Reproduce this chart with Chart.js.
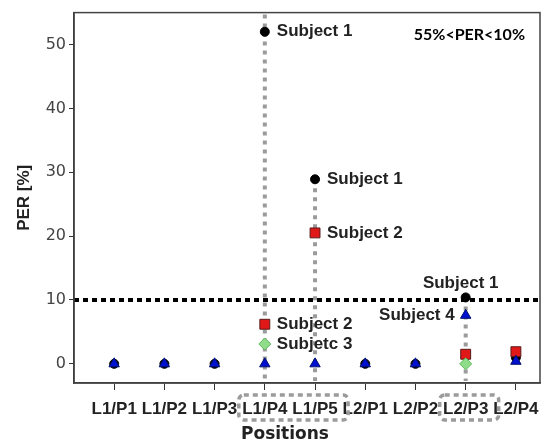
<!DOCTYPE html>
<html>
<head>
<meta charset="utf-8">
<script src="https://cdn.jsdelivr.net/npm/chart.js@4"></script>
<style>
  html, body { margin: 0; padding: 0; background: #fff; }
</style>
</head>
<body>
<canvas id="perChart" width="550" height="447"></canvas>
<script>
// PER per position, one array per subject (null = no visible mark)
const positions = ['L1/P1', 'L1/P2', 'L1/P3', 'L1/P4', 'L1/P5', 'L2/P1', 'L2/P2', 'L2/P3', 'L2/P4'];
const subject1 = [0, 0, 0, 52, 28.9, 0, 0, 10.4, 1.0];
const subject2 = [null, null, null, 6.2, 20.5, null, null, 1.5, 1.9];
const subject3 = [null, null, null, 3.1, null, null, null, 0, null];
const subject4 = [0, 0, 0, 0, 0, 0, 0, 7.6, 0.4];
const yTicks = [0, 10, 20, 30, 40, 50];
const threshold = 10;
const rangeNote = '55%<PER<10%';

// positions with a vertical guide, and groups of tick labels that get a box
const guides = [
  { pos: 'L1/P4', fromTop: true },
  { pos: 'L1/P5' },
  { pos: 'L2/P3' }
];
const boxedGroups = [['L1/P4', 'L1/P5'], ['L2/P3']];

// text notes next to single points: series index, position, side
const notes = [
  { text: 'Subject 1', series: 0, pos: 'L1/P4', side: 'right' },
  { text: 'Subject 1', series: 0, pos: 'L1/P5', side: 'right' },
  { text: 'Subject 2', series: 1, pos: 'L1/P5', side: 'right' },
  { text: 'Subject 2', series: 1, pos: 'L1/P4', side: 'right' },
  { text: 'Subjetc 3', series: 2, pos: 'L1/P4', side: 'right' },
  { text: 'Subject 1', series: 0, pos: 'L2/P3', side: 'above' },
  { text: 'Subject 4', series: 3, pos: 'L2/P3', side: 'left' }
];

const allSeries = [subject1, subject2, subject3, subject4];
const toPoints = arr => arr.map((v, i) => ({ x: i + 1, y: v }));

const decor = {
  id: 'decor',
  beforeDatasetsDraw(chart) {
    const { ctx, chartArea: a, scales: { x, y } } = chart;
    ctx.save();
    // grey vertical guides
    ctx.strokeStyle = '#9b9b9b';
    ctx.lineWidth = 4;
    ctx.setLineDash([4, 5]);
    guides.forEach(g => {
      const i = positions.indexOf(g.pos);
      const px = x.getPixelForValue(i + 1);
      const top = g.fromTop ? a.top + 2 : y.getPixelForValue(Math.max(...allSeries.map(s => s[i] ?? 0)));
      ctx.beginPath();
      ctx.moveTo(px, top);
      ctx.lineTo(px, a.bottom - 2);
      ctx.stroke();
    });
    // 10 % threshold
    ctx.strokeStyle = '#000';
    ctx.lineWidth = 4;
    ctx.setLineDash([5, 4]);
    const ty = y.getPixelForValue(threshold);
    ctx.beginPath();
    ctx.moveTo(a.left, ty);
    ctx.lineTo(a.right, ty);
    ctx.stroke();
    ctx.restore();
  },
  afterDraw(chart) {
    const { ctx, chartArea: a, scales: { x, y } } = chart;
    ctx.save();
    // frame
    ctx.strokeStyle = '#444';
    ctx.lineWidth = 1.5;
    ctx.strokeRect(a.left, a.top, a.right - a.left, a.bottom - a.top);

    // dashed boxes round tick labels
    ctx.strokeStyle = '#9b9b9b';
    ctx.lineWidth = 3.5;
    ctx.setLineDash([5, 4]);
    boxedGroups.forEach(grp => {
      const l = x.getPixelForValue(positions.indexOf(grp[0]) + 1) - 26;
      const r = x.getPixelForValue(positions.indexOf(grp[grp.length - 1]) + 1) + 33;
      ctx.beginPath();
      ctx.roundRect(l, a.bottom + 12, r - l, 25, 5);
      ctx.stroke();
    });
    ctx.setLineDash([]);

    // point notes
    ctx.fillStyle = '#222';
    ctx.font = 'bold 17px "Liberation Sans", Arial, sans-serif';
    ctx.textBaseline = 'middle';
    notes.forEach(n => {
      const i = positions.indexOf(n.pos);
      const px = x.getPixelForValue(i + 1);
      const py = y.getPixelForValue(allSeries[n.series][i]);
      if (n.side === 'right') {
        ctx.textAlign = 'left';
        ctx.fillText(n.text, px + 12, py);
      } else if (n.side === 'left') {
        ctx.textAlign = 'right';
        ctx.fillText(n.text, px - 11, py);
      } else {
        ctx.textAlign = 'center';
        ctx.fillText(n.text, px - 5, py - 14);
      }
    });

    // range note
    ctx.fillStyle = '#000';
    ctx.font = 'bold 16px Lato, "Liberation Sans", sans-serif';
    ctx.textAlign = 'right';
    ctx.fillText(rangeNote, a.right - 15, a.top + 22);

    // axis titles
    ctx.fillStyle = '#222';
    ctx.font = 'bold 17px "DejaVu Sans", Verdana, sans-serif';
    ctx.textAlign = 'center';
    ctx.fillText('Positions', (a.left + a.right) / 2 - 22, a.bottom + 52);
    ctx.translate(24, (a.top + a.bottom) / 2);
    ctx.rotate(-Math.PI / 2);
    ctx.font = 'bold 17px "Liberation Sans", Arial, sans-serif';
    ctx.fillText('PER [%]', 0, 0);
    ctx.restore();
  }
};

new Chart(document.getElementById('perChart'), {
  type: 'scatter',
  data: {
    datasets: [
      {
        label: 'Subject 4', data: toPoints(subject4), order: 0,
        pointStyle: 'triangle', pointRadius: 6, pointBackgroundColor: '#0010d0',
        pointBorderColor: '#00106a', pointBorderWidth: 1
      },
      {
        label: 'Subject 3', data: toPoints(subject3), order: 1,
        pointStyle: 'rectRot', pointRadius: 6, pointBackgroundColor: '#8fdc8a',
        pointBorderColor: '#5fb85a', pointBorderWidth: 1
      },
      {
        label: 'Subject 2', data: toPoints(subject2), order: 2,
        pointStyle: 'rect', pointRadius: 7, pointBackgroundColor: '#e01818',
        pointBorderColor: '#5a1a1a', pointBorderWidth: 1
      },
      {
        label: 'Subject 1', data: toPoints(subject1), order: 3,
        pointStyle: 'circle', pointRadius: 4.5, pointBackgroundColor: '#000',
        pointBorderColor: '#000', pointBorderWidth: 1
      }
    ]
  },
  options: {
    responsive: false,
    animation: false,
    layout: { padding: { top: 10, right: 10, left: 0, bottom: 0 } },
    plugins: { legend: { display: false }, tooltip: { enabled: false } },
    scales: {
      x: {
        type: 'linear',
        min: 0.2,
        max: 9.48,
        afterBuildTicks: s => { s.ticks = positions.map((p, i) => ({ value: i + 1 })); },
        afterFit: s => { s.height = 64; },
        grid: { drawOnChartArea: false, drawTicks: true, tickLength: 7, color: '#333' },
        border: { display: true, color: '#333', width: 1.5 },
        ticks: {
          autoSkip: false, maxRotation: 0, padding: 9,
          color: '#222',
          font: { family: '"Liberation Sans", Arial, sans-serif', size: 17, weight: 'bold' },
          callback: v => positions[v - 1]
        }
      },
      y: {
        min: -3,
        max: 55,
        afterBuildTicks: s => { s.ticks = yTicks.map(v => ({ value: v })); },
        afterFit: s => { s.width = 74; },
        grid: { drawOnChartArea: false, drawTicks: true, tickLength: 5, color: '#333' },
        border: { display: true, color: '#333', width: 1.5 },
        ticks: {
          padding: 3,
          color: '#444',
          font: { family: '"DejaVu Sans", Verdana, sans-serif', size: 16 }
        }
      }
    }
  },
  plugins: [decor]
});
</script>
</body>
</html>
